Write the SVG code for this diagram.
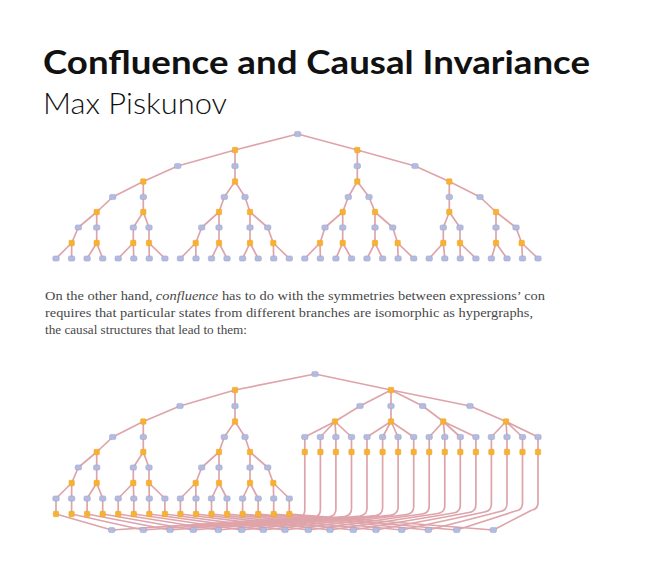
<svg xmlns="http://www.w3.org/2000/svg" xmlns:xlink="http://www.w3.org/1999/xlink" width="664" height="578" viewBox="0 0 664 578">
<style>
.e{fill:none;stroke:#dea4aa;stroke-width:1.7;stroke-linecap:round;stroke-linejoin:round}
.t{font-family:Lato,"Liberation Sans",sans-serif;fill:#111}
.p{font-family:"Liberation Serif","DejaVu Serif",serif;font-size:13px;fill:#484848}
</style>
<defs>
<rect id="B" x="-3.2" y="-2.6" width="6.4" height="5.2" rx="1.6" fill="#b3bbdf" stroke="#98a1cc" stroke-width="0.5"/>
<rect id="O" x="-2.7" y="-2.7" width="5.4" height="5.4" rx="0.8" fill="#f8b133" stroke="#eda51f" stroke-width="0.5"/>
</defs>
<rect width="664" height="578" fill="#fff"/>
<text class="t" x="43" y="74" font-size="33" font-weight="700" textLength="547" lengthAdjust="spacingAndGlyphs">Confluence and Causal Invariance</text>
<text class="t" x="43" y="114" font-size="30" font-weight="300" textLength="184" lengthAdjust="spacingAndGlyphs">Max Piskunov</text>
<text class="p" x="45" y="300" textLength="500" lengthAdjust="spacingAndGlyphs">On the other hand, <tspan font-style="italic">confluence</tspan> has to do with the symmetries between expressions’ con</text>
<text class="p" x="45" y="317" textLength="488" lengthAdjust="spacingAndGlyphs">requires that particular states from different branches are isomorphic as hypergraphs,</text>
<text class="p" x="45" y="334" textLength="202" lengthAdjust="spacingAndGlyphs">the causal structures that lead to them:</text>
<g id="connectors">
<path class="e" d="M297.7 134L235 150M297.7 134L357.3 150M235 150L177.7 166M235 150L235 166M357.3 150L357.3 166M357.3 150L415 166M177.7 166L143.3 181.5M235 166L235 181.5M357.3 166L357.3 181.5M415 166L449.3 181.5M143.3 181.5L112.7 197M143.3 181.5L143.3 197M235 181.5L224.3 197M235 181.5L245 197M357.3 181.5L348.3 197M357.3 181.5L369 197M449.3 181.5L449.3 197M449.3 181.5L480 197M112.7 197L96.7 212M143.3 197L143.3 212M224.3 197L219 212M245 197L250 212M348.3 197L342.7 212M369 197L375 212M449.3 197L449.3 212M480 197L496 212M96.7 212L78.3 227.5M96.7 212L96.7 227.5M143.3 212L133.3 227.5M143.3 212L149 227.5M219 212L201.7 227.5M219 212L219 227.5M250 212L250 227.5M250 212L267.7 227.5M342.7 212L325 227.5M342.7 212L342.7 227.5M375 212L375 227.5M375 212L392.7 227.5M449.3 212L443.3 227.5M449.3 212L460 227.5M496 212L496 227.5M496 212L516 227.5M78.3 227.5L71.7 243M96.7 227.5L96.7 243M133.3 227.5L133.3 243M149 227.5L149 243M201.7 227.5L195.7 243M219 227.5L219 243M250 227.5L250 243M267.7 227.5L273.3 243M325 227.5L320 243M342.7 227.5L342.7 243M375 227.5L375 243M392.7 227.5L397.7 243M443.3 227.5L443.3 243M460 227.5L460 243M496 227.5L496 243M516 227.5L521.7 243M71.7 243L56 258.5M71.7 243L71.6 258.5M96.7 243L87.1 258.5M96.7 243L102.7 258.5M133.3 243L118.2 258.5M133.3 243L133.8 258.5M149 243L149.3 258.5M149 243L164.9 258.5M195.7 243L180.4 258.5M195.7 243L196 258.5M219 243L211.5 258.5M219 243L227 258.5M250 243L242.6 258.5M250 243L258.2 258.5M273.3 243L273.7 258.5M273.3 243L289.3 258.5M320 243L304.8 258.5M320 243L320.4 258.5M342.7 243L335.9 258.5M342.7 243L351.5 258.5M375 243L367 258.5M375 243L382.6 258.5M397.7 243L398.1 258.5M397.7 243L413.7 258.5M443.3 243L429.2 258.5M443.3 243L444.8 258.5M460 243L460.3 258.5M460 243L475.9 258.5M496 243L491.4 258.5M496 243L507 258.5M521.7 243L522.5 258.5M521.7 243L538 258.5"/>
<path class="e" d="M315 374L235 390M315 374L391 390M235 390L180 406M235 390L235 406M180 406L143.3 421.5M235 406L235 421.5M143.3 421.5L112.7 437M143.3 421.5L143.3 437M235 421.5L224.3 437M235 421.5L245 437M112.7 437L96.7 452M143.3 437L143.3 452M224.3 437L219 452M245 437L250 452M96.7 452L78.3 467.5M96.7 452L96.7 467.5M143.3 452L133.3 467.5M143.3 452L149 467.5M219 452L201.7 467.5M219 452L219 467.5M250 452L250 467.5M250 452L267.7 467.5M78.3 467.5L71.7 483M96.7 467.5L96.7 483M133.3 467.5L133.3 483M149 467.5L149 483M201.7 467.5L195.7 483M219 467.5L219 483M250 467.5L250 483M267.7 467.5L273.3 483M71.7 483L56 498.5M71.7 483L71.6 498.5M96.7 483L87.1 498.5M96.7 483L102.7 498.5M133.3 483L118.2 498.5M133.3 483L133.8 498.5M149 483L149.3 498.5M149 483L164.9 498.5M195.7 483L180.4 498.5M195.7 483L196 498.5M219 483L211.5 498.5M219 483L227 498.5M250 483L242.6 498.5M250 483L258.2 498.5M273.3 483L273.7 498.5M273.3 483L289.3 498.5M56 498.5V514M71.6 498.5V514M87.1 498.5V514M102.7 498.5V514M118.2 498.5V514M133.8 498.5V514M149.3 498.5V514M164.9 498.5V514M180.4 498.5V514M196 498.5V514M211.5 498.5V514M227 498.5V514M242.6 498.5V514M258.2 498.5V514M273.7 498.5V514M289.3 498.5V514"/>
<path class="e" d="M391 390L360 406M391 390L391 406M391 390L422.7 406M391 390L470 406M360 406L335 421.5M391 406L391 421.5M422.7 406L443.3 421.5M470 406L506 421.5M335 421.5L304.8 437M335 421.5L320.4 437M335 421.5L335.9 437M335 421.5L351.5 437M391 421.5L367 437M391 421.5L382.6 437M391 421.5L398.1 437M391 421.5L413.7 437M443.3 421.5L429.2 437M443.3 421.5L444.8 437M443.3 421.5L460.3 437M443.3 421.5L475.9 437M506 421.5L491.4 437M506 421.5L507 437M506 421.5L522.5 437M506 421.5L538 437"/>
<path class="e" d="M56 514L111.7 530M71.6 514L143.3 530M87.1 514L170 530M102.7 514L193.3 530M118.2 514L218.3 530M133.8 514L241.7 530M149.3 514L263.3 530M164.9 514L285 530M180.4 514L308.3 530M196 514L330 530M211.5 514L353.3 530M227 514L376 530M242.6 514L401.7 530M258.2 514L428.3 530M273.7 514L456.7 530M289.3 514L493.3 530"/>
<path class="e" d="M304.8 437V510Q304.8 517 297.8 518L111.7 530M320.4 437V509.5Q320.4 516.5 313.4 517.5L143.3 530M335.9 437V509Q335.9 516 328.9 517L170 530M351.5 437V508.5Q351.5 515.5 344.5 516.5L193.3 530M367 437V508Q367 515 360 516L218.3 530M382.6 437V507.5Q382.6 514.5 375.6 515.5L241.7 530M398.1 437V507Q398.1 514 391.1 515L263.3 530M413.7 437V506.5Q413.7 513.5 406.7 514.5L285 530M429.2 437V506Q429.2 513 422.2 514L308.3 530M444.8 437V505.5Q444.8 512.5 437.8 513.5L330 530M460.3 437V505Q460.3 512 453.3 513L353.3 530M475.9 437V504.5Q475.9 511.5 468.9 512.5L376 530M491.4 437V504Q491.4 511 484.4 512L401.7 530M507 437V503.5Q507 510.5 500 511.5L428.3 530M522.5 437V503Q522.5 510 515.5 511L456.7 530M538 437V502.5Q538 509.5 531 510.5L493.3 530"/>
</g>
<g id="top-graph">
<g id="t0-0"><use href="#B" x="297.7" y="134"/></g>
<g id="t1-0"><use href="#O" x="235" y="150"/></g>
<g id="t1-1"><use href="#O" x="357.3" y="150"/></g>
<g id="t2-0"><use href="#B" x="177.7" y="166"/></g>
<g id="t2-1"><use href="#B" x="235" y="166"/></g>
<g id="t2-2"><use href="#B" x="357.3" y="166"/></g>
<g id="t2-3"><use href="#B" x="415" y="166"/></g>
<g id="t3-0"><use href="#O" x="143.3" y="181.5"/></g>
<g id="t3-1"><use href="#O" x="235" y="181.5"/></g>
<g id="t3-2"><use href="#O" x="357.3" y="181.5"/></g>
<g id="t3-3"><use href="#O" x="449.3" y="181.5"/></g>
<g id="t4-0"><use href="#B" x="112.7" y="197"/></g>
<g id="t4-1"><use href="#B" x="143.3" y="197"/></g>
<g id="t4-2"><use href="#B" x="224.3" y="197"/></g>
<g id="t4-3"><use href="#B" x="245" y="197"/></g>
<g id="t4-4"><use href="#B" x="348.3" y="197"/></g>
<g id="t4-5"><use href="#B" x="369" y="197"/></g>
<g id="t4-6"><use href="#B" x="449.3" y="197"/></g>
<g id="t4-7"><use href="#B" x="480" y="197"/></g>
<g id="t5-0"><use href="#O" x="96.7" y="212"/></g>
<g id="t5-1"><use href="#O" x="143.3" y="212"/></g>
<g id="t5-2"><use href="#O" x="219" y="212"/></g>
<g id="t5-3"><use href="#O" x="250" y="212"/></g>
<g id="t5-4"><use href="#O" x="342.7" y="212"/></g>
<g id="t5-5"><use href="#O" x="375" y="212"/></g>
<g id="t5-6"><use href="#O" x="449.3" y="212"/></g>
<g id="t5-7"><use href="#O" x="496" y="212"/></g>
<g id="t6-0"><use href="#B" x="78.3" y="227.5"/></g>
<g id="t6-1"><use href="#B" x="96.7" y="227.5"/></g>
<g id="t6-2"><use href="#B" x="133.3" y="227.5"/></g>
<g id="t6-3"><use href="#B" x="149" y="227.5"/></g>
<g id="t6-4"><use href="#B" x="201.7" y="227.5"/></g>
<g id="t6-5"><use href="#B" x="219" y="227.5"/></g>
<g id="t6-6"><use href="#B" x="250" y="227.5"/></g>
<g id="t6-7"><use href="#B" x="267.7" y="227.5"/></g>
<g id="t6-8"><use href="#B" x="325" y="227.5"/></g>
<g id="t6-9"><use href="#B" x="342.7" y="227.5"/></g>
<g id="t6-10"><use href="#B" x="375" y="227.5"/></g>
<g id="t6-11"><use href="#B" x="392.7" y="227.5"/></g>
<g id="t6-12"><use href="#B" x="443.3" y="227.5"/></g>
<g id="t6-13"><use href="#B" x="460" y="227.5"/></g>
<g id="t6-14"><use href="#B" x="496" y="227.5"/></g>
<g id="t6-15"><use href="#B" x="516" y="227.5"/></g>
<g id="t7-0"><use href="#O" x="71.7" y="243"/></g>
<g id="t7-1"><use href="#O" x="96.7" y="243"/></g>
<g id="t7-2"><use href="#O" x="133.3" y="243"/></g>
<g id="t7-3"><use href="#O" x="149" y="243"/></g>
<g id="t7-4"><use href="#O" x="195.7" y="243"/></g>
<g id="t7-5"><use href="#O" x="219" y="243"/></g>
<g id="t7-6"><use href="#O" x="250" y="243"/></g>
<g id="t7-7"><use href="#O" x="273.3" y="243"/></g>
<g id="t7-8"><use href="#O" x="320" y="243"/></g>
<g id="t7-9"><use href="#O" x="342.7" y="243"/></g>
<g id="t7-10"><use href="#O" x="375" y="243"/></g>
<g id="t7-11"><use href="#O" x="397.7" y="243"/></g>
<g id="t7-12"><use href="#O" x="443.3" y="243"/></g>
<g id="t7-13"><use href="#O" x="460" y="243"/></g>
<g id="t7-14"><use href="#O" x="496" y="243"/></g>
<g id="t7-15"><use href="#O" x="521.7" y="243"/></g>
<g id="t8-0"><use href="#B" x="56" y="258.5"/></g>
<g id="t8-1"><use href="#B" x="71.6" y="258.5"/></g>
<g id="t8-2"><use href="#B" x="87.1" y="258.5"/></g>
<g id="t8-3"><use href="#B" x="102.7" y="258.5"/></g>
<g id="t8-4"><use href="#B" x="118.2" y="258.5"/></g>
<g id="t8-5"><use href="#B" x="133.8" y="258.5"/></g>
<g id="t8-6"><use href="#B" x="149.3" y="258.5"/></g>
<g id="t8-7"><use href="#B" x="164.9" y="258.5"/></g>
<g id="t8-8"><use href="#B" x="180.4" y="258.5"/></g>
<g id="t8-9"><use href="#B" x="196" y="258.5"/></g>
<g id="t8-10"><use href="#B" x="211.5" y="258.5"/></g>
<g id="t8-11"><use href="#B" x="227" y="258.5"/></g>
<g id="t8-12"><use href="#B" x="242.6" y="258.5"/></g>
<g id="t8-13"><use href="#B" x="258.2" y="258.5"/></g>
<g id="t8-14"><use href="#B" x="273.7" y="258.5"/></g>
<g id="t8-15"><use href="#B" x="289.3" y="258.5"/></g>
<g id="t8-16"><use href="#B" x="304.8" y="258.5"/></g>
<g id="t8-17"><use href="#B" x="320.4" y="258.5"/></g>
<g id="t8-18"><use href="#B" x="335.9" y="258.5"/></g>
<g id="t8-19"><use href="#B" x="351.5" y="258.5"/></g>
<g id="t8-20"><use href="#B" x="367" y="258.5"/></g>
<g id="t8-21"><use href="#B" x="382.6" y="258.5"/></g>
<g id="t8-22"><use href="#B" x="398.1" y="258.5"/></g>
<g id="t8-23"><use href="#B" x="413.7" y="258.5"/></g>
<g id="t8-24"><use href="#B" x="429.2" y="258.5"/></g>
<g id="t8-25"><use href="#B" x="444.8" y="258.5"/></g>
<g id="t8-26"><use href="#B" x="460.3" y="258.5"/></g>
<g id="t8-27"><use href="#B" x="475.9" y="258.5"/></g>
<g id="t8-28"><use href="#B" x="491.4" y="258.5"/></g>
<g id="t8-29"><use href="#B" x="507" y="258.5"/></g>
<g id="t8-30"><use href="#B" x="522.5" y="258.5"/></g>
<g id="t8-31"><use href="#B" x="538" y="258.5"/></g>
</g>
<g id="bottom-graph">
<g id="b0-0"><use href="#B" x="315" y="374"/></g>
<g id="b1-0"><use href="#O" x="235" y="390"/></g>
<g id="b1-1"><use href="#O" x="391" y="390"/></g>
<g id="b2-0"><use href="#B" x="180" y="406"/></g>
<g id="b2-1"><use href="#B" x="235" y="406"/></g>
<g id="b2-2"><use href="#B" x="360" y="406"/></g>
<g id="b2-3"><use href="#B" x="391" y="406"/></g>
<g id="b2-4"><use href="#B" x="422.7" y="406"/></g>
<g id="b2-5"><use href="#B" x="470" y="406"/></g>
<g id="b3-0"><use href="#O" x="143.3" y="421.5"/></g>
<g id="b3-1"><use href="#O" x="235" y="421.5"/></g>
<g id="b3-2"><use href="#O" x="335" y="421.5"/></g>
<g id="b3-3"><use href="#O" x="391" y="421.5"/></g>
<g id="b3-4"><use href="#O" x="443.3" y="421.5"/></g>
<g id="b3-5"><use href="#O" x="506" y="421.5"/></g>
<g id="b4-0"><use href="#B" x="112.7" y="437"/></g>
<g id="b4-1"><use href="#B" x="143.3" y="437"/></g>
<g id="b4-2"><use href="#B" x="224.3" y="437"/></g>
<g id="b4-3"><use href="#B" x="245" y="437"/></g>
<g id="b4-4"><use href="#B" x="304.8" y="437"/></g>
<g id="b4-5"><use href="#B" x="320.4" y="437"/></g>
<g id="b4-6"><use href="#B" x="335.9" y="437"/></g>
<g id="b4-7"><use href="#B" x="351.5" y="437"/></g>
<g id="b4-8"><use href="#B" x="367" y="437"/></g>
<g id="b4-9"><use href="#B" x="382.6" y="437"/></g>
<g id="b4-10"><use href="#B" x="398.1" y="437"/></g>
<g id="b4-11"><use href="#B" x="413.7" y="437"/></g>
<g id="b4-12"><use href="#B" x="429.2" y="437"/></g>
<g id="b4-13"><use href="#B" x="444.8" y="437"/></g>
<g id="b4-14"><use href="#B" x="460.3" y="437"/></g>
<g id="b4-15"><use href="#B" x="475.9" y="437"/></g>
<g id="b4-16"><use href="#B" x="491.4" y="437"/></g>
<g id="b4-17"><use href="#B" x="507" y="437"/></g>
<g id="b4-18"><use href="#B" x="522.5" y="437"/></g>
<g id="b4-19"><use href="#B" x="538" y="437"/></g>
<g id="b5-0"><use href="#O" x="96.7" y="452"/></g>
<g id="b5-1"><use href="#O" x="143.3" y="452"/></g>
<g id="b5-2"><use href="#O" x="219" y="452"/></g>
<g id="b5-3"><use href="#O" x="250" y="452"/></g>
<g id="b5-4"><use href="#O" x="304.8" y="452"/></g>
<g id="b5-5"><use href="#O" x="320.4" y="452"/></g>
<g id="b5-6"><use href="#O" x="335.9" y="452"/></g>
<g id="b5-7"><use href="#O" x="351.5" y="452"/></g>
<g id="b5-8"><use href="#O" x="367" y="452"/></g>
<g id="b5-9"><use href="#O" x="382.6" y="452"/></g>
<g id="b5-10"><use href="#O" x="398.1" y="452"/></g>
<g id="b5-11"><use href="#O" x="413.7" y="452"/></g>
<g id="b5-12"><use href="#O" x="429.2" y="452"/></g>
<g id="b5-13"><use href="#O" x="444.8" y="452"/></g>
<g id="b5-14"><use href="#O" x="460.3" y="452"/></g>
<g id="b5-15"><use href="#O" x="475.9" y="452"/></g>
<g id="b5-16"><use href="#O" x="491.4" y="452"/></g>
<g id="b5-17"><use href="#O" x="507" y="452"/></g>
<g id="b5-18"><use href="#O" x="522.5" y="452"/></g>
<g id="b5-19"><use href="#O" x="538" y="452"/></g>
<g id="b6-0"><use href="#B" x="78.3" y="467.5"/></g>
<g id="b6-1"><use href="#B" x="96.7" y="467.5"/></g>
<g id="b6-2"><use href="#B" x="133.3" y="467.5"/></g>
<g id="b6-3"><use href="#B" x="149" y="467.5"/></g>
<g id="b6-4"><use href="#B" x="201.7" y="467.5"/></g>
<g id="b6-5"><use href="#B" x="219" y="467.5"/></g>
<g id="b6-6"><use href="#B" x="250" y="467.5"/></g>
<g id="b6-7"><use href="#B" x="267.7" y="467.5"/></g>
<g id="b7-0"><use href="#O" x="71.7" y="483"/></g>
<g id="b7-1"><use href="#O" x="96.7" y="483"/></g>
<g id="b7-2"><use href="#O" x="133.3" y="483"/></g>
<g id="b7-3"><use href="#O" x="149" y="483"/></g>
<g id="b7-4"><use href="#O" x="195.7" y="483"/></g>
<g id="b7-5"><use href="#O" x="219" y="483"/></g>
<g id="b7-6"><use href="#O" x="250" y="483"/></g>
<g id="b7-7"><use href="#O" x="273.3" y="483"/></g>
<g id="b8-0"><use href="#B" x="56" y="498.5"/></g>
<g id="b8-1"><use href="#B" x="71.6" y="498.5"/></g>
<g id="b8-2"><use href="#B" x="87.1" y="498.5"/></g>
<g id="b8-3"><use href="#B" x="102.7" y="498.5"/></g>
<g id="b8-4"><use href="#B" x="118.2" y="498.5"/></g>
<g id="b8-5"><use href="#B" x="133.8" y="498.5"/></g>
<g id="b8-6"><use href="#B" x="149.3" y="498.5"/></g>
<g id="b8-7"><use href="#B" x="164.9" y="498.5"/></g>
<g id="b8-8"><use href="#B" x="180.4" y="498.5"/></g>
<g id="b8-9"><use href="#B" x="196" y="498.5"/></g>
<g id="b8-10"><use href="#B" x="211.5" y="498.5"/></g>
<g id="b8-11"><use href="#B" x="227" y="498.5"/></g>
<g id="b8-12"><use href="#B" x="242.6" y="498.5"/></g>
<g id="b8-13"><use href="#B" x="258.2" y="498.5"/></g>
<g id="b8-14"><use href="#B" x="273.7" y="498.5"/></g>
<g id="b8-15"><use href="#B" x="289.3" y="498.5"/></g>
<g id="b9-0"><use href="#O" x="56" y="514"/></g>
<g id="b9-1"><use href="#O" x="71.6" y="514"/></g>
<g id="b9-2"><use href="#O" x="87.1" y="514"/></g>
<g id="b9-3"><use href="#O" x="102.7" y="514"/></g>
<g id="b9-4"><use href="#O" x="118.2" y="514"/></g>
<g id="b9-5"><use href="#O" x="133.8" y="514"/></g>
<g id="b9-6"><use href="#O" x="149.3" y="514"/></g>
<g id="b9-7"><use href="#O" x="164.9" y="514"/></g>
<g id="b9-8"><use href="#O" x="180.4" y="514"/></g>
<g id="b9-9"><use href="#O" x="196" y="514"/></g>
<g id="b9-10"><use href="#O" x="211.5" y="514"/></g>
<g id="b9-11"><use href="#O" x="227" y="514"/></g>
<g id="b9-12"><use href="#O" x="242.6" y="514"/></g>
<g id="b9-13"><use href="#O" x="258.2" y="514"/></g>
<g id="b9-14"><use href="#O" x="273.7" y="514"/></g>
<g id="b9-15"><use href="#O" x="289.3" y="514"/></g>
<g id="f-0"><use href="#B" x="111.7" y="530"/></g>
<g id="f-1"><use href="#B" x="143.3" y="530"/></g>
<g id="f-2"><use href="#B" x="170" y="530"/></g>
<g id="f-3"><use href="#B" x="193.3" y="530"/></g>
<g id="f-4"><use href="#B" x="218.3" y="530"/></g>
<g id="f-5"><use href="#B" x="241.7" y="530"/></g>
<g id="f-6"><use href="#B" x="263.3" y="530"/></g>
<g id="f-7"><use href="#B" x="285" y="530"/></g>
<g id="f-8"><use href="#B" x="308.3" y="530"/></g>
<g id="f-9"><use href="#B" x="330" y="530"/></g>
<g id="f-10"><use href="#B" x="353.3" y="530"/></g>
<g id="f-11"><use href="#B" x="376" y="530"/></g>
<g id="f-12"><use href="#B" x="401.7" y="530"/></g>
<g id="f-13"><use href="#B" x="428.3" y="530"/></g>
<g id="f-14"><use href="#B" x="456.7" y="530"/></g>
<g id="f-15"><use href="#B" x="493.3" y="530"/></g>
</g>
</svg>
